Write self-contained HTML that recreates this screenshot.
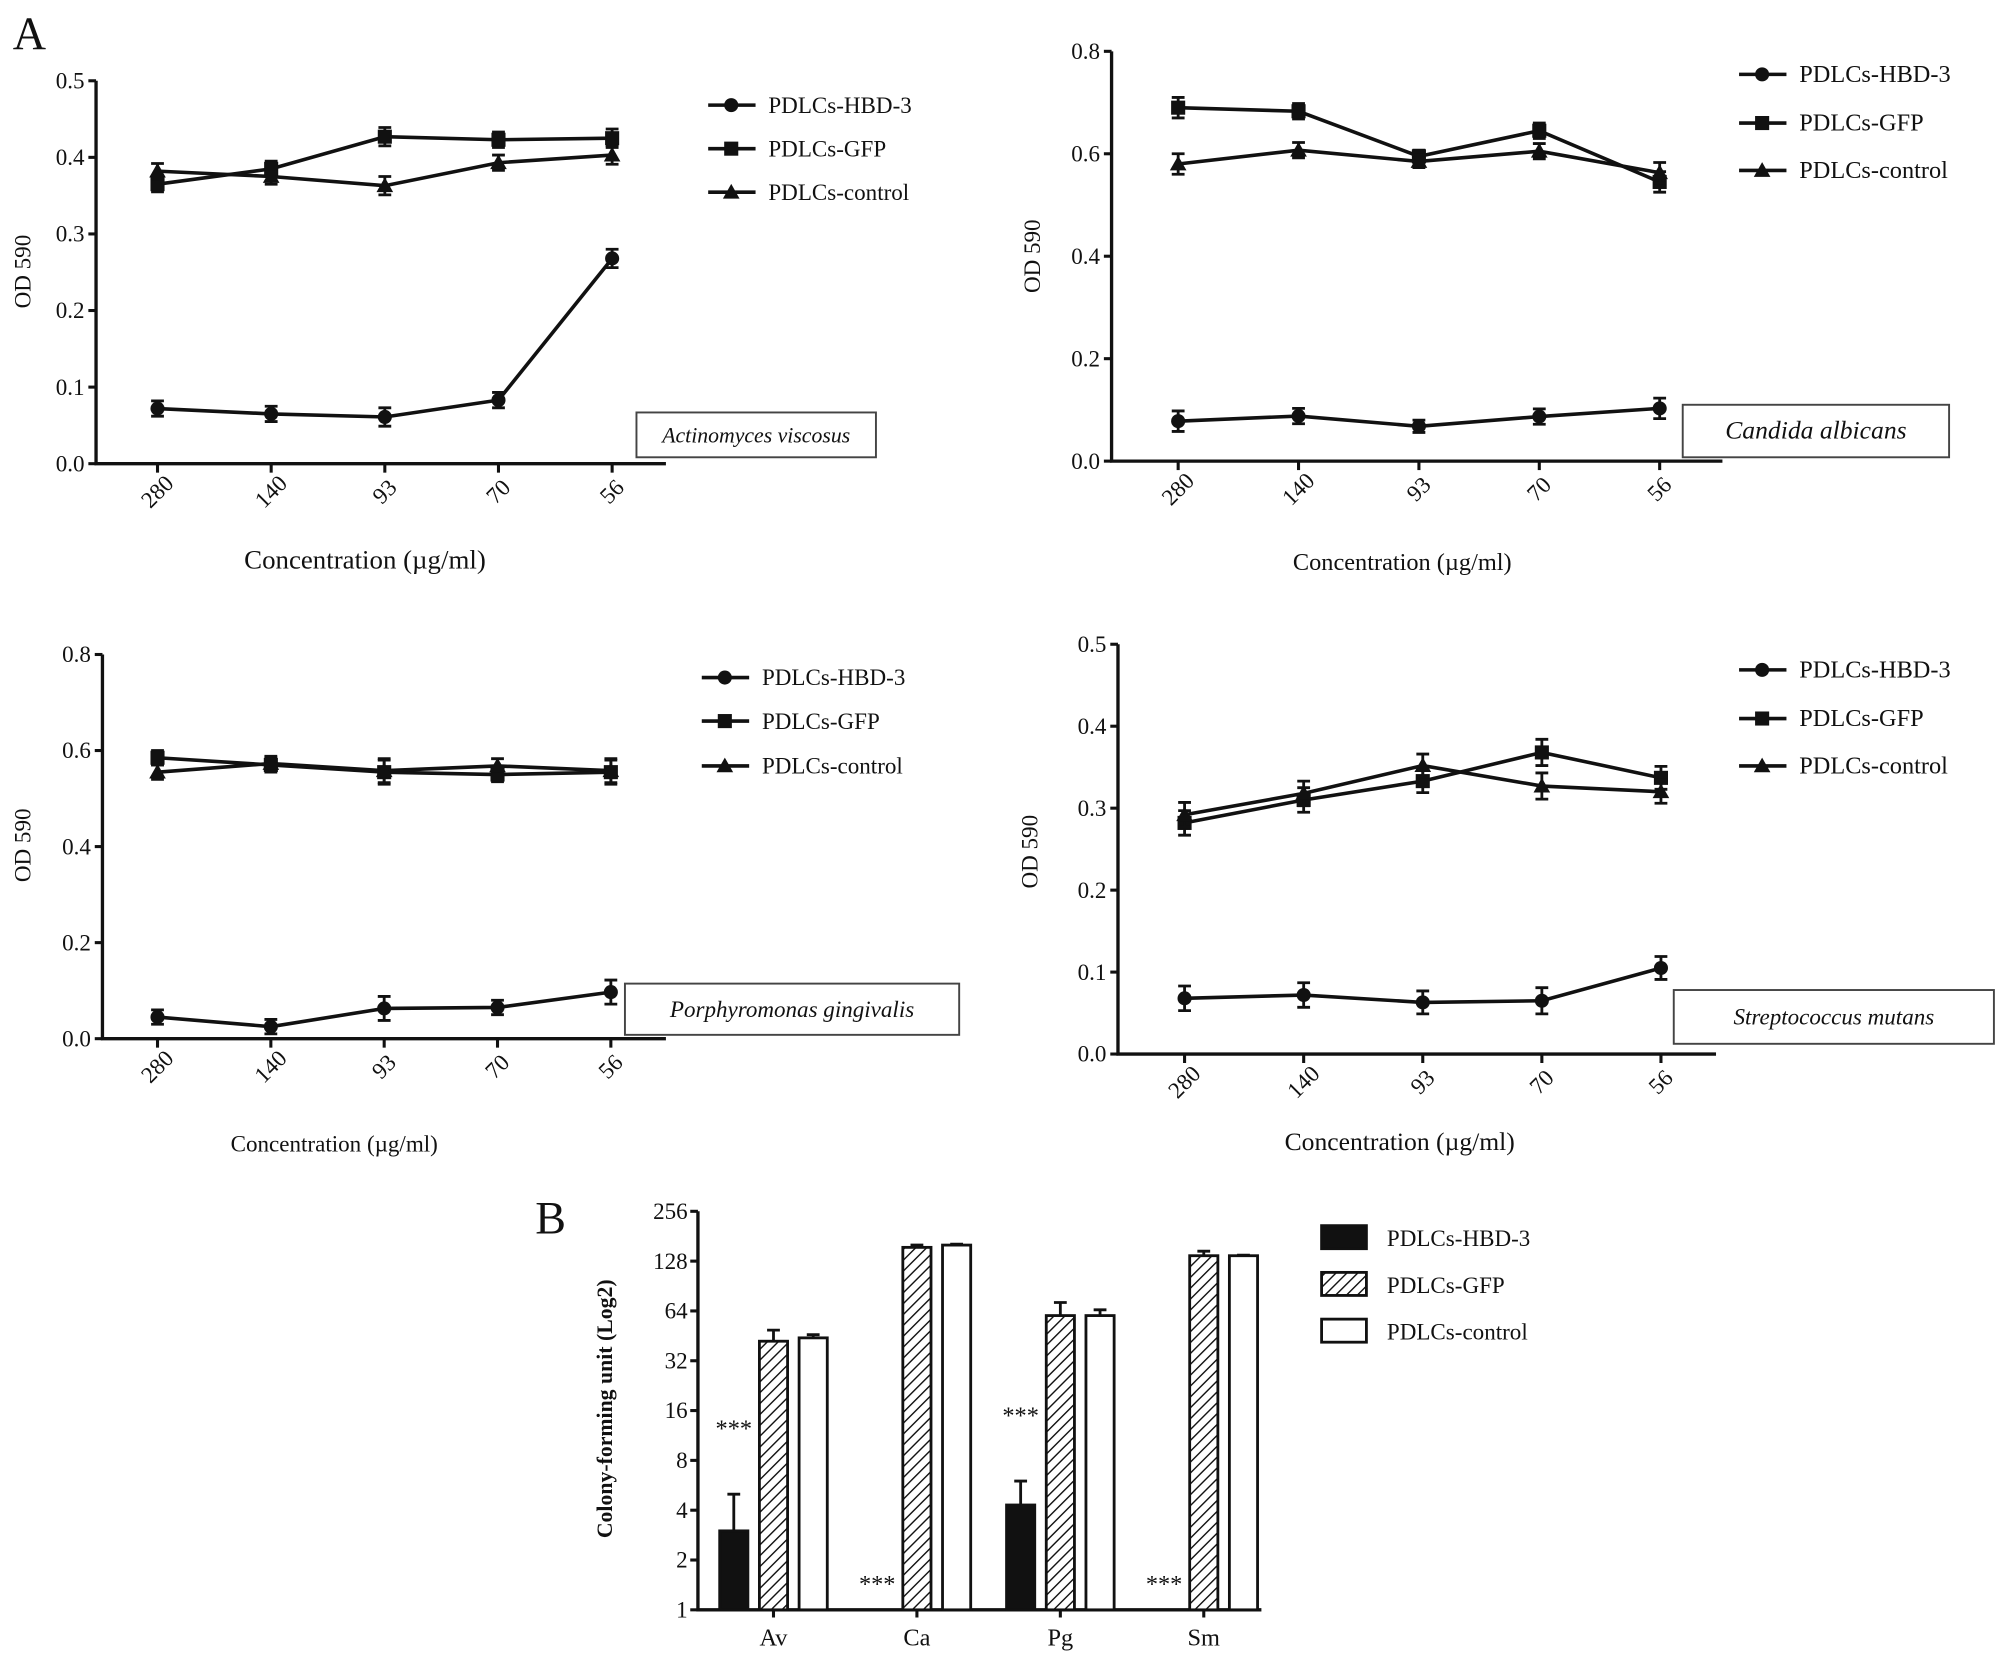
<!DOCTYPE html>
<html><head><meta charset="utf-8"><style>
html,body{margin:0;padding:0;background:#fff}
svg{display:block}
text{font-family:"Liberation Serif",serif;fill:#111}
</style></head><body>
<svg id="fig" width="2008" height="1665" viewBox="0 0 1568 1300" xmlns="http://www.w3.org/2000/svg">
<defs>
<pattern id="hatch" patternUnits="userSpaceOnUse" width="6" height="6" patternTransform="rotate(45)">
<rect width="6" height="6" fill="#fff"/><line x1="0" y1="0" x2="0" y2="6" stroke="#111" stroke-width="2.2"/>
</pattern>
</defs>
<text x="10" y="38" font-size="36">A</text>
<text x="418" y="963" font-size="36">B</text>
<g id="panels"></g>
<g id="bars"></g>
</svg>
<script>
const NS="http://www.w3.org/2000/svg";
const categories=["280","140","93","70","56"];
const seriesNames=["PDLCs-HBD-3","PDLCs-GFP","PDLCs-control"];
// Panel 1 Actinomyces viscosus
const av_hbd=[0.072,0.065,0.061,0.083,0.268];
const av_gfp=[0.365,0.385,0.427,0.423,0.425];
const av_ctl=[0.382,0.375,0.363,0.393,0.403];
const av_err=[0.010,0.010,0.012,0.010,0.012];
// Panel 2 Candida albicans
const ca_hbd=[0.078,0.088,0.068,0.087,0.103];
const ca_gfp=[0.690,0.683,0.595,0.645,0.545];
const ca_ctl=[0.580,0.607,0.585,0.605,0.563];
const ca_err=[0.020,0.015,0.012,0.015,0.020];
// Panel 3 Porphyromonas gingivalis
const pg_hbd=[0.045,0.025,0.063,0.065,0.097];
const pg_gfp=[0.585,0.570,0.555,0.550,0.555];
const pg_ctl=[0.555,0.573,0.558,0.568,0.558];
const pg_err=[0.015,0.015,0.025,0.015,0.025];
// Panel 4 Streptococcus mutans
const sm_hbd=[0.068,0.072,0.063,0.065,0.105];
const sm_gfp=[0.282,0.310,0.333,0.368,0.337];
const sm_ctl=[0.292,0.318,0.352,0.327,0.320];
const sm_err=[0.015,0.015,0.014,0.016,0.014];
const yTicks05=["0.0","0.1","0.2","0.3","0.4","0.5"];
const yTicks08=["0.0","0.2","0.4","0.6","0.8"];
// Panel B
const barGroups=["Av","Ca","Pg","Sm"];
const bar_hbd=[3.0,0,4.3,0];
const bar_hbd_err=[5.0,0,6.0,0];
const bar_gfp=[42,155,60,138];
const bar_gfp_err=[49,160,72,147];
const bar_ctl=[44,160,60,138];
const bar_ctl_err=[46,162,65,139];
const logTicks=[1,2,4,8,16,32,64,128,256];
const stars=["***","***","***","***"];

function el(tag,attrs,parent,txt){const e=document.createElementNS(NS,tag);for(const k in attrs)e.setAttribute(k,attrs[k]);if(txt!==undefined)e.textContent=txt;parent.appendChild(e);return e;}

const panelsG=document.getElementById('panels');
function linePanel(cfg){
  const g=el('g',{},panelsG);
  
  
  const ys=v=>cfg.y0-(v/cfg.ymax)*(cfg.y0-cfg.y1);
  const xs=i=>cfg.cx[0]+i*(cfg.cx[1]-cfg.cx[0])/4;
  const ax=el('path',{d:`M${cfg.ax} ${cfg.y1} V${cfg.y0} H${cfg.xend}`,stroke:'#111','stroke-width':2.6,fill:'none'},g);
  
  
  cfg.yt.forEach((t,i)=>{const v=parseFloat(t);const y=ys(v);
    el('line',{x1:cfg.ax-6,x2:cfg.ax,y1:y,y2:y,stroke:'#111','stroke-width':2.4},g);
    const tx=el('text',{x:cfg.ax-9,y:y+6,'font-size':18,'text-anchor':'end'},g,t);
    
    
  });
  categories.forEach((c,i)=>{const x=xs(i);
    el('line',{x1:x,x2:x,y1:cfg.y0,y2:cfg.y0+7,stroke:'#111','stroke-width':2.4},g);
    const tx=el('text',{x:x+4,y:cfg.y0+26,'font-size':18,'text-anchor':'middle',transform:`rotate(-45 ${x+4} ${cfg.y0+26})`},g,c);
    
    
  });
  const xt=el('text',{x:cfg.xtx,y:cfg.xty,'font-size':cfg.xfs,'text-anchor':'middle'},g,'Concentration (µg/ml)');
  
  
  const yt=el('text',{x:0,y:0,'font-size':18,'text-anchor':'middle',transform:`translate(${cfg.ytx} ${cfg.yty}) rotate(-90)`},g,'OD 590');
  
  
  const series=[cfg.hbd,cfg.gfp,cfg.ctl];
  series.forEach((arr,s)=>{
    const pts=arr.map((v,i)=>`${xs(i)},${ys(v)}`).join(' ');
    const pl=el('polyline',{points:pts,fill:'none',stroke:'#111','stroke-width':2.8},g);
    
    
    arr.forEach((v,i)=>{const x=xs(i),y=ys(v),e=cfg.err[i];
      const eu=ys(v+e),ed=ys(v-e);
      el('path',{d:`M${x} ${eu} V${ed} M${x-5} ${eu} H${x+5} M${x-5} ${ed} H${x+5}`,stroke:'#111','stroke-width':2.2},g);
      marker(g,s,x,y,'point');
    });
  });
  seriesNames.forEach((n,s)=>{const y=cfg.ly[s];
    const lg=el('g',{},g);
    
    
    el('line',{x1:cfg.lx,x2:cfg.lx+37,y1:y,y2:y,stroke:'#111','stroke-width':2.8},lg);
    marker(lg,s,cfg.lx+18,y,'legend-marker');
    el('text',{x:cfg.lx+47,y:y+6,'font-size':cfg.lfs},lg,n);
  });
  const bx=el('rect',{x:cfg.box[0],y:cfg.box[1],width:cfg.box[2],height:cfg.box[3],fill:'#fff',stroke:'#444','stroke-width':1.5},g);
  
  
  const bt=el('text',{x:cfg.box[0]+cfg.box[2]/2,y:cfg.box[1]+cfg.box[3]/2+6,'font-size':cfg.bfs,'font-style':'italic','text-anchor':'middle'},g,cfg.org);
  
  
}
function marker(g,s,x,y,name){
  let m;
  if(s===0)m=el('circle',{cx:x,cy:y,r:5.5,fill:'#111'},g);
  else if(s===1)m=el('rect',{x:x-5.5,y:y-5.5,width:11,height:11,fill:'#111'},g);
  else m=el('path',{d:`M${x} ${y-6.5} L${x+6.5} ${y+5} L${x-6.5} ${y+5}Z`,fill:'#111'},g);
  
  
}
linePanel({name:'chart-actinomyces',ax:75,y0:362,y1:63,ymax:0.5,xend:520,cx:[123,478],yt:yTicks05,
  hbd:av_hbd,gfp:av_gfp,ctl:av_ctl,err:av_err,xtx:285,xty:444,xfs:21,ytx:24,yty:212,
  lx:553,ly:[82,116,150],lfs:18,box:[497,322,187,35],org:'Actinomyces viscosus',bfs:17});
linePanel({name:'chart-candida',ax:868,y0:360,y1:40,ymax:0.8,xend:1345,cx:[920,1296],yt:yTicks08,
  hbd:ca_hbd,gfp:ca_gfp,ctl:ca_ctl,err:ca_err,xtx:1095,xty:445,xfs:19,ytx:812,yty:200,
  lx:1358,ly:[58,96,133],lfs:19,box:[1314,316,208,41],org:'Candida albicans',bfs:20});
linePanel({name:'chart-porphyromonas',ax:80,y0:811,y1:511,ymax:0.8,xend:520,cx:[123,477],yt:yTicks08,
  hbd:pg_hbd,gfp:pg_gfp,ctl:pg_ctl,err:pg_err,xtx:261,xty:899,xfs:18,ytx:24,yty:660,
  lx:548,ly:[529,563,598],lfs:18,box:[488,768,261,40],org:'Porphyromonas gingivalis',bfs:18});
linePanel({name:'chart-streptococcus',ax:873,y0:823,y1:503,ymax:0.5,xend:1340,cx:[925,1297],yt:yTicks05,
  hbd:sm_hbd,gfp:sm_gfp,ctl:sm_ctl,err:sm_err,xtx:1093,xty:898,xfs:20,ytx:810,yty:665,
  lx:1358,ly:[523,561,598],lfs:19,box:[1307,773,250,42],org:'Streptococcus mutans',bfs:18});

// Bar chart
const bg=document.getElementById('bars');


const AX=545,Y0=1257,STEP=38.9;
const ly=v=>Y0-Math.log2(v)*STEP;
const bax=el('path',{d:`M${AX} ${ly(256)} V${Y0} H985`,stroke:'#111','stroke-width':2.6,fill:'none'},bg);


logTicks.forEach(t=>{const y=ly(t);
  el('line',{x1:AX-6,x2:AX,y1:y,y2:y,stroke:'#111','stroke-width':2.4},bg);
  const tx=el('text',{x:AX-8,y:y+6,'font-size':18,'text-anchor':'end'},bg,String(t));
  
  
});
const byt=el('text',{x:0,y:0,'font-size':17,'font-weight':'bold','text-anchor':'middle',transform:'translate(478 1100) rotate(-90)'},bg,'Colony-forming unit (Log2)');


const centers=[604,716,828,940];
const barW=22,off=31;
const fills=['#111','url(#hatch)','#fff'];
const vals=[bar_hbd,bar_gfp,bar_ctl],errs=[bar_hbd_err,bar_gfp_err,bar_ctl_err];
barGroups.forEach((gname,i)=>{const cx=centers[i];
  const lab=el('text',{x:cx,y:Y0+28,'font-size':19,'text-anchor':'middle'},bg,gname);
  
  
  el('line',{x1:cx,x2:cx,y1:Y0,y2:Y0+6,stroke:'#111','stroke-width':2.4},bg);
  vals.forEach((arr,s)=>{const v=arr[i];if(v<=1)return;
    const x=cx+(s-1)*off-barW/2,y=ly(v);
    const ey=ly(errs[s][i]);
    el('path',{d:`M${x+barW/2} ${y} V${ey} M${x+barW/2-5} ${ey} H${x+barW/2+5}`,stroke:'#111','stroke-width':2.2},bg);
    const r=el('rect',{x:x,y:y,width:barW,height:Y0-y,fill:fills[s],stroke:'#111','stroke-width':2.2},bg);
    
    
  });
  const sy=bar_hbd[i]>1?ly(bar_hbd_err[i])-45:Y0-14;
  const st=el('text',{x:cx-off,y:sy,'font-size':19,'text-anchor':'middle'},bg,stars[i]);
  
  
});
seriesNames.forEach((n,s)=>{const y=966+s*36.5;
  const lg=el('g',{},bg);
  
  
  el('rect',{x:1032,y:y-9,width:35,height:18,fill:fills[s],stroke:'#111','stroke-width':2.2},lg);
  el('text',{x:1083,y:y+7,'font-size':18},lg,n);
});
</script>
</body></html>
